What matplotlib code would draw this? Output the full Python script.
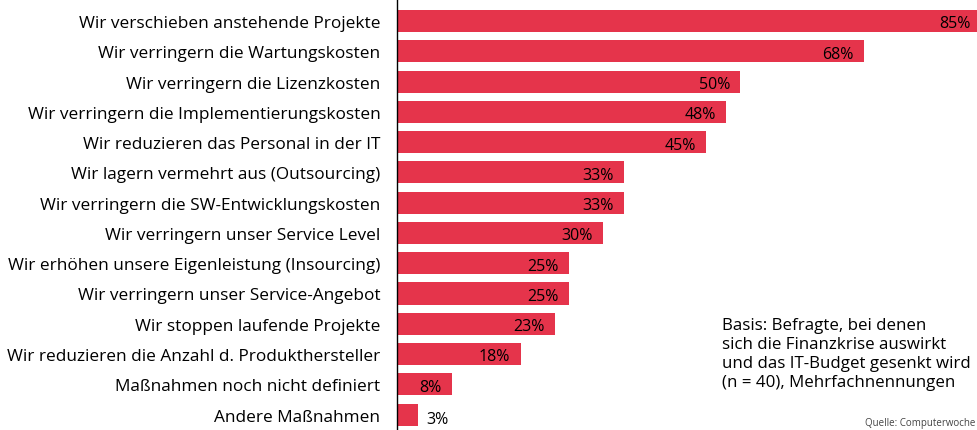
import matplotlib
matplotlib.use("Agg")
from matplotlib import pyplot as plt

# data
categories = [
    "Wir verschieben anstehende Projekte",
    "Wir verringern die Wartungskosten",
    "Wir verringern die Lizenzkosten",
    "Wir verringern die Implementierungskosten",
    "Wir reduzieren das Personal in der IT",
    "Wir lagern vermehrt aus (Outsourcing)",
    "Wir verringern die SW-Entwicklungskosten",
    "Wir verringern unser Service Level",
    "Wir erhöhen unsere Eigenleistung (Insourcing)",
    "Wir verringern unser Service-Angebot",
    "Wir stoppen laufende Projekte",
    "Wir reduzieren die Anzahl d. Produkthersteller",
    "Maßnahmen noch nicht definiert",
    "Andere Maßnahmen",
]
values = [85, 68, 50, 48, 45, 33, 33, 30, 25, 25, 23, 18, 8, 3]
note = ("Basis: Befragte, bei denen\n"
        "sich die Finanzkrise auswirkt\n"
        "und das IT-Budget gesenkt wird\n"
        "(n = 40), Mehrfachnennungen")

plt.rcParams['font.family'] = ['Open Sans', 'DejaVu Sans']

fig = plt.figure(figsize=(9.77, 4.31), dpi=100)
ax = fig.add_axes([397 / 977, 0, 1 - 397 / 977, 1])

bar_color = '#E5344B'
ypos = list(range(len(values)))
ax.barh(ypos, values, height=0.73, color=bar_color)

ax.set_xlim(0, 84.5)
ax.set_ylim(13.51, -0.727)

# value labels: inside the bar end, outside for very short bars
for y, v in zip(ypos, values):
    if v >= 5:
        ax.text(v - 1.5, y + 0.08, f"{v}%", ha='right', va='center', fontsize=11.5, color='black')
    else:
        ax.text(v + 1.2, y + 0.15, f"{v}%", ha='left', va='center', fontsize=11.5, color='black')

# category labels on the left
ax.set_yticks(ypos)
ax.set_yticklabels(categories, fontsize=12.4)
ax.tick_params(axis='y', length=0, pad=12)
ax.set_xticks([])

for side in ['top', 'right', 'bottom']:
    ax.spines[side].set_visible(False)
ax.spines['left'].set_linewidth(1.0)
ax.spines['left'].set_color('black')

fig.text(722 / 977, 1 - 318 / 431, note, ha='left', va='top', fontsize=12.2, linespacing=1.25)
fig.text(975 / 977, 1 - 429 / 431, "Quelle: Computerwoche", ha='right', va='bottom', fontsize=7, color='#444444')

fig.savefig('out.png', dpi=100)
